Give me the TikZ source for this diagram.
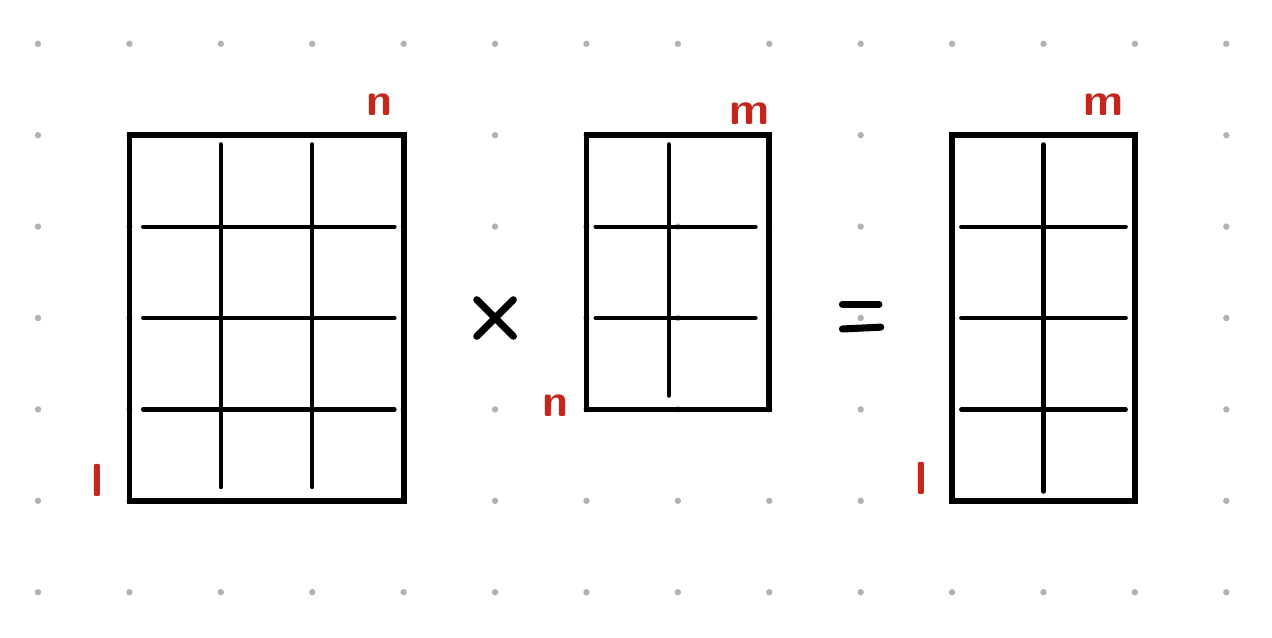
\documentclass[tikz,border=0pt]{standalone}
\usepackage{tikz}
\usetikzlibrary{positioning}
\definecolor{penred}{RGB}{196,38,30}
\definecolor{dotgray}{RGB}{178,178,178}
\tikzset{
  matbox/.style={rectangle,draw=black,line width=1.8pt,inner sep=0pt},
  cellline/.style={line width=1.3pt,line cap=round},
  dimlabel/.style={text=penred,font=\sffamily\bfseries\Large,inner sep=0pt},
  opline/.style={line width=2.2pt,line cap=round}
}
\begin{document}
\begin{tikzpicture}

      \useasboundingbox (-0.416,-0.49) rectangle (13.5,6.479);

      % dot grid
      \foreach \i in {0,...,13}{
        \foreach \j in {0,...,6}{
          \fill[dotgray] (\i,\j) circle (0.035);
        }
      }

      \node[matbox,minimum width=3cm,minimum height=4cm] (L) at (2.5,3){};
      \node[matbox,minimum width=2cm,minimum height=3cm] (R) at (7,3.5){};
      \node[matbox,minimum width=2cm,minimum height=4cm] (P) at (11,3){};

      % cells
      \foreach \x in {2,3} \draw[cellline] (\x,4.9) -- (\x,1.15);
      \foreach \y in {2,3,4} \draw[cellline] (1.15,\y) -- (3.9,\y);
      \draw[cellline] (6.9,4.9) -- (6.9,2.15);
      \foreach \y in {3,4} \draw[cellline] (6.1,\y) -- (7.85,\y);
      \draw[cellline] (11,4.9) -- (11,1.1);
      \foreach \y in {2,3,4} \draw[cellline] (10.1,\y) -- (11.9,\y);

      \node[dimlabel] (nL) at ([shift={(-0.3,0.3)}]L.north east){n};
      \node[dimlabel] (lL) at ([shift={(-0.32,0.25)}]L.south west){l};
      \node[dimlabel] (mR) at ([shift={(-0.25,0.2)}]R.north east){m};
      \node[dimlabel] (nR) at ([shift={(-0.31,0.07)}]R.south west){n};
      \node[dimlabel] (mP) at ([shift={(-0.38,0.3)}]P.north east){m};
      \node[dimlabel] (lP) at ([shift={(-0.3,0.28)}]P.south west){l};

      % times and equals
      \draw[opline] (4.8,3.2) -- (5.2,2.8);
      \draw[opline] (4.8,2.8) -- (5.2,3.2);
      \draw[opline] (8.8,3.15) -- (9.2,3.15);
      \draw[opline] (8.8,2.88) -- (9.22,2.9);

    \end{tikzpicture}
\end{document}
